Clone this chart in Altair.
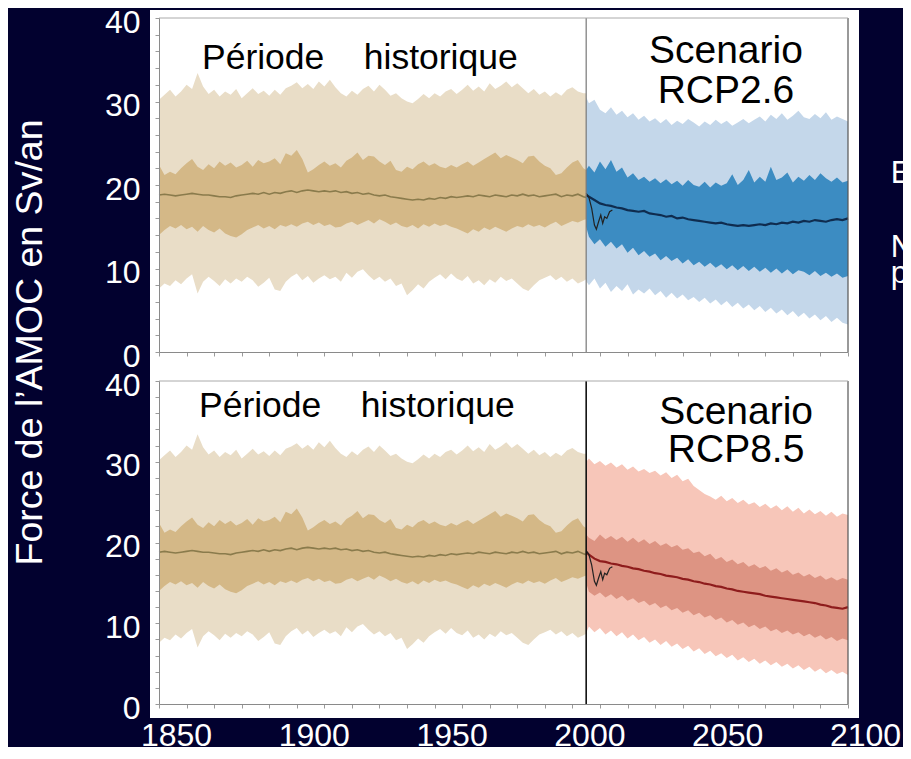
import altair as alt
import pandas as pd

BG = "#02012f"
FONT = "Liberation Sans"

# ---------------- data ----------------
hist_years = list(range(1850, 2005, 2)) + [2005]
hist_outer_hi = [
    30.2, 30.8, 31.4, 30.6, 31.2,
    32.0, 31.5, 33.4, 31.8, 30.9,
    31.4, 30.6, 31.2, 30.8, 31.5,
    30.4, 31.0, 31.6, 30.9, 31.3,
    30.7, 31.4, 30.8, 31.6, 31.9,
    32.3, 31.6, 32.1, 31.5, 32.4,
    31.8, 32.6, 31.7, 31.0, 30.6,
    31.3, 30.8, 31.5, 31.9, 31.2,
    32.0, 31.4, 30.7, 31.0, 30.4,
    30.0, 29.8, 30.3, 30.9, 30.4,
    31.0, 30.6, 31.2, 31.5, 30.9,
    31.4, 32.0, 31.3, 31.8, 31.2,
    32.2, 31.5, 31.9, 32.4, 31.7,
    32.2, 31.6, 31.0, 31.5, 30.8,
    31.2, 30.6, 31.1, 30.7, 31.4,
    31.7, 31.2, 31.0, 31.0]
hist_outer_lo = [
    7.6, 8.2, 7.9, 8.6, 8.1,
    8.8, 9.3, 7.0, 8.4, 9.0,
    8.5, 7.9, 8.7, 8.2, 8.8,
    8.4, 9.0, 8.6, 7.8, 8.3,
    8.9, 7.5, 7.3, 8.4, 9.0,
    9.4, 8.6, 9.1, 8.3, 8.8,
    9.2, 8.7, 9.0, 8.4, 9.5,
    8.9, 9.6, 9.9, 9.2, 8.6,
    9.0, 8.4, 8.8, 7.9, 8.2,
    6.8, 7.4, 8.1, 7.6, 8.4,
    8.9, 9.3, 8.7, 9.4, 8.8,
    8.5, 9.1, 8.2, 8.6, 8.0,
    8.7, 8.3, 9.0, 8.5, 8.8,
    8.2, 7.6, 7.3, 8.0, 8.6,
    8.9, 9.2, 8.6, 9.0, 8.4,
    8.8, 8.2, 8.5, 8.7]
hist_inner_hi = [
    22.4, 21.2, 21.6, 21.3, 22.0,
    22.6, 23.1, 22.2, 21.8, 22.5,
    22.0, 22.8, 22.3, 22.7, 22.1,
    22.4, 22.9, 22.2, 23.0, 22.6,
    22.8, 23.2, 22.5, 23.8, 23.5,
    24.2, 23.1, 21.5, 21.9, 22.4,
    22.8, 22.3, 22.6, 22.1, 22.9,
    23.3, 23.9, 23.0, 23.5, 23.4,
    22.8, 22.4, 22.9, 21.8, 21.6,
    22.2, 21.9, 22.5, 22.8, 22.3,
    22.6, 22.2, 22.0, 22.4, 22.1,
    22.5, 22.8, 22.3, 22.7, 23.1,
    23.5, 23.9, 23.2, 23.6, 23.3,
    23.0, 22.6, 23.4, 23.5, 22.8,
    22.3, 22.0, 21.2, 21.4, 22.1,
    22.7, 23.0, 22.0, 21.8]
hist_inner_lo = [
    14.0, 14.6, 15.1, 14.8, 15.2,
    14.7, 15.0, 14.4, 15.1, 14.6,
    14.3, 14.8, 14.2, 13.9, 13.7,
    14.1, 14.6, 14.9, 15.2, 14.8,
    15.1, 14.7, 15.2, 15.0, 15.3,
    15.0, 15.4, 15.6, 15.2, 15.5,
    15.1, 15.3, 14.9, 15.0, 15.4,
    15.6, 15.2, 15.5, 15.8, 15.4,
    15.9, 15.6, 15.2, 15.5, 15.1,
    14.9, 15.2, 14.8, 15.3, 15.0,
    15.4, 15.1, 15.3, 15.0, 14.8,
    14.5, 14.2, 14.7, 14.4, 14.9,
    14.6, 15.0, 14.7, 14.4, 14.8,
    15.1, 14.9, 15.3, 15.0, 15.2,
    14.9, 15.3, 15.6, 15.1, 15.4,
    15.7, 15.5, 15.8, 15.9]
hist_mean = [
    18.8, 18.9, 18.8, 18.7, 18.8,
    18.9, 19.0, 18.9, 18.8, 18.8,
    18.7, 18.6, 18.6, 18.5, 18.7,
    18.8, 18.9, 19.0, 18.9, 19.1,
    18.9, 19.1, 19.0, 19.2, 19.3,
    19.1, 19.3, 19.4, 19.3, 19.2,
    19.3, 19.2, 19.3, 19.1, 19.2,
    19.0, 19.1, 18.9, 19.0, 18.8,
    18.7, 18.8, 18.6, 18.5, 18.4,
    18.3, 18.2, 18.3, 18.2, 18.4,
    18.3, 18.5, 18.4, 18.6, 18.5,
    18.6, 18.7, 18.6, 18.8, 18.7,
    18.6, 18.8, 18.7, 18.6, 18.8,
    18.7, 18.9, 18.7, 18.8, 18.6,
    18.7, 18.8, 18.9, 18.6, 18.8,
    18.7, 18.9, 18.6, 18.5]

scen_years = [2005] + list(range(2006, 2101, 2))
rcp26_outer_hi = [30.5,
    29.8, 30.2, 29.0, 28.6, 29.3,
    28.4, 28.9, 28.1, 28.6, 27.8,
    28.3, 27.6, 28.0, 27.4, 27.9,
    27.2, 27.7, 27.3, 27.9, 27.5,
    27.0, 27.6, 27.2, 27.8, 27.3,
    27.7, 27.1, 27.5, 27.9, 27.4,
    27.8, 28.2, 27.6, 28.4, 27.9,
    28.6, 27.8, 28.3, 28.9, 28.1,
    27.9, 28.5, 28.0, 28.7, 27.8,
    28.2, 27.9, 27.6]
rcp26_outer_lo = [8.5,
    8.0, 8.8, 7.6, 8.3, 7.2,
    7.9, 7.3, 8.1, 6.9, 7.5,
    7.0, 7.6, 6.8, 7.3, 6.5,
    7.1, 6.4, 6.9, 6.2, 6.6,
    6.0, 6.5, 5.8, 6.3, 5.6,
    6.1, 5.4, 5.9, 5.2, 5.7,
    5.0, 5.5, 4.8, 5.3, 4.6,
    5.1, 4.4, 4.9, 4.2, 4.7,
    4.0, 4.5, 3.8, 4.3, 3.6,
    4.1, 3.5, 3.3]
rcp26_inner_hi = [21.8,
    22.3, 21.5, 22.8, 21.9, 23.0,
    21.6, 22.1, 20.9, 21.4, 20.6,
    21.0, 20.4, 20.8, 20.2, 20.7,
    20.1, 20.5, 19.9, 20.6, 20.0,
    19.8, 20.4, 19.7, 20.3, 19.9,
    20.2, 21.3, 20.0, 20.6, 21.8,
    20.3, 21.0, 20.4, 22.2, 20.6,
    20.9, 21.5, 20.3, 21.0, 20.5,
    21.2, 20.6, 21.4, 20.8, 20.4,
    20.9, 20.3, 20.5]
rcp26_inner_lo = [15.0,
    13.8, 12.9, 13.5, 12.6, 13.2,
    12.4, 12.9, 11.9, 12.5, 11.6,
    12.1, 11.4, 11.8, 11.0, 11.5,
    10.9, 11.3, 10.6, 11.1, 10.4,
    10.8, 10.2, 10.7, 10.1, 10.5,
    9.9, 10.4, 9.8, 10.3, 9.7,
    10.2, 9.6, 10.1, 9.5, 10.0,
    9.4, 9.9, 9.3, 9.8, 9.6,
    9.2, 9.7, 9.1, 9.5, 9.0,
    9.4, 8.9, 9.1]
rcp26_mean = [18.8,
    18.6, 18.2, 17.8, 17.6, 17.5,
    17.3, 17.2, 17.0, 16.9, 16.8,
    16.9, 16.6, 16.5, 16.4, 16.2,
    16.3, 16.0, 16.1, 15.9, 15.8,
    15.7, 15.6, 15.5, 15.4, 15.5,
    15.3, 15.2, 15.1, 15.2, 15.1,
    15.2, 15.3, 15.2, 15.4, 15.3,
    15.5, 15.4, 15.6, 15.5, 15.7,
    15.6, 15.8, 15.7, 15.6, 15.8,
    15.9, 15.8, 16.0]

rcp85_outer_hi = [30.0,
    30.4, 29.7, 30.1, 29.5, 29.9,
    29.3, 29.7, 29.0, 29.4, 28.8,
    29.1, 28.6, 28.9, 28.3, 28.7,
    28.0, 28.4, 27.6, 27.9, 27.0,
    26.5, 26.0, 25.7, 25.3, 25.8,
    25.1, 25.5, 24.9, 25.3, 24.7,
    25.0, 24.4, 24.8, 24.2, 24.6,
    24.0, 24.5, 23.8, 24.3, 23.6,
    24.1, 23.5, 23.9, 23.3, 23.8,
    23.2, 23.6, 23.4]
rcp85_outer_lo = [8.8,
    9.6, 8.9, 9.4, 8.6, 9.1,
    8.4, 8.9, 8.1, 8.6, 7.9,
    8.3, 7.6, 8.0, 7.3, 7.8,
    7.1, 7.5, 6.8, 7.2, 6.5,
    6.9, 6.2, 6.6, 5.9, 6.3,
    5.7, 6.1, 5.4, 5.8, 5.2,
    5.6, 5.0, 5.4, 4.8, 5.2,
    4.6, 5.0, 4.4, 4.8, 4.2,
    4.6, 4.0, 4.4, 3.8, 4.2,
    3.7, 4.0, 3.6]
rcp85_inner_hi = [21.0,
    20.6, 20.2, 21.0, 20.4, 20.8,
    20.3, 20.7, 20.1, 20.6, 20.0,
    20.4, 19.8, 20.2, 19.6, 19.9,
    19.4, 19.7, 19.1, 19.3, 18.7,
    18.9, 18.3, 18.6, 17.9, 18.2,
    17.6, 17.9, 17.3, 17.6, 17.0,
    17.3, 16.8, 17.1, 16.5, 16.8,
    16.3, 16.6, 16.0, 16.3, 15.8,
    16.1, 15.6, 15.9, 15.4, 15.7,
    15.3, 15.6, 15.4]
rcp85_inner_lo = [15.0,
    13.9, 13.4, 13.8, 13.2, 13.6,
    13.0, 13.4, 12.8, 13.1, 12.5,
    12.8, 12.2, 12.5, 11.9, 12.2,
    11.6, 11.9, 11.3, 11.6, 11.0,
    11.3, 10.7, 11.0, 10.4, 10.7,
    10.1, 10.4, 9.8, 10.1, 9.5,
    9.8, 9.3, 9.6, 9.0, 9.3,
    8.8, 9.1, 8.6, 8.9, 8.4,
    8.7, 8.2, 8.5, 8.0, 8.3,
    7.8, 8.1, 7.9]
rcp85_mean = [18.8,
    18.5, 18.0, 17.7, 17.6, 17.4,
    17.3, 17.1, 17.0, 16.8, 16.7,
    16.5, 16.4, 16.2, 16.1, 15.9,
    15.8, 15.7, 15.5, 15.4, 15.2,
    15.1, 14.9, 14.8, 14.6, 14.5,
    14.3, 14.2, 14.0, 13.9, 13.8,
    13.7, 13.6, 13.4, 13.3, 13.2,
    13.1, 13.0, 12.9, 12.8, 12.7,
    12.6, 12.5, 12.3, 12.2, 12.0,
    11.9, 11.8, 12.0]

obs_years = [2005.0, 2006.0, 2007.0, 2008.0, 2008.7, 2009.5, 2010.3, 2011.0, 2011.7, 2012.5, 2013.5, 2014.5]
obs_vals = [19.0, 18.5, 17.2, 15.2, 14.7, 15.6, 16.4, 15.4, 16.2, 16.0, 16.8, 17.0]

y_title = "Force de l’AMOC en Sv/an"
hist_label = "Période\u00a0\u00a0\u00a0 historique"
panels_info = [
    {"scen": ("Scenario", "RCP2.6"),
     "data": (rcp26_outer_lo, rcp26_outer_hi, rcp26_inner_lo, rcp26_inner_hi, rcp26_mean),
     "colors": ("#c4d7ea", "#3c8cc2", "#0f2c4f"),
     "vline": ("#777777", 1.2),
     "H": 334, "pad_top": 8,
     "hist_xy": (1865.6, 33.9), "scen_xy": (2055.7, 34.6, 29.8)},
    {"scen": ("Scenario", "RCP8.5"),
     "data": (rcp85_outer_lo, rcp85_outer_hi, rcp85_inner_lo, rcp85_inner_hi, rcp85_mean),
     "colors": ("#f7c6b9", "#dd9483", "#8e1c1c"),
     "vline": ("#111111", 1.6),
     "H": 323, "pad_top": 16,
     "hist_xy": (1864.5, 35.6), "scen_xy": (2059.4, 34.7, 30.0)},
]
side_letters = ["E", "N", "p"]
side_y = [20.2, 11.4, 8.3]

W = 689
hist_df = pd.DataFrame({"year": hist_years, "olo": hist_outer_lo, "ohi": hist_outer_hi,
                        "ilo": hist_inner_lo, "ihi": hist_inner_hi, "mean": hist_mean})
obs_df = pd.DataFrame({"year": obs_years, "v": obs_vals})

XS = alt.Scale(domain=[1850, 2100], nice=False, zero=False)
YS = alt.Scale(domain=[0, 40], nice=False, zero=False)


def axes(show_x):
    xa = alt.Axis(title=None, values=list(range(1850, 2101, 10)),
                  labelExpr="datum.value % 50 === 0 ? '' + datum.value : ''",
                  labels=show_x, labelFlush=False, labelOverlap=False,
                  labelColor="white", labelFont=FONT, labelFontSize=32,
                  labelPadding=12, labelOffset=17,
                  domainColor="#8a8a8a", tickColor="#9a9a9a", tickSize=4,
                  grid=False, zindex=1)
    ya = alt.Axis(title=None, values=list(range(0, 41, 2)),
                  labelExpr="datum.value % 10 === 0 ? '' + datum.value : ''",
                  labelFlush=False, labelOverlap=False,
                  labelColor="white", labelFont=FONT, labelFontSize=32,
                  labelPadding=15, labelOffset=4,
                  domainColor="#8a8a8a", tickColor="#9a9a9a", tickSize=4,
                  grid=False, zindex=1)
    return xa, ya


def panel(info, show_x, top):
    H = info["H"]
    xa, ya = axes(show_x)
    olo, ohi, ilo, ihi, mn = info["data"]
    c_out, c_in, c_mean = info["colors"]
    sdf = pd.DataFrame({"year": scen_years, "olo": olo, "ohi": ohi, "ilo": ilo, "ihi": ihi, "mean": mn})

    def X():
        return alt.X("year:Q", scale=XS, axis=xa)

    def Y(f):
        return alt.Y(f + ":Q", scale=YS, axis=ya)

    one = pd.DataFrame({"k": [0]})
    bg = alt.Chart(one).mark_rect(color="white").encode(
        x=alt.value(-9), x2=alt.value(W + 11),
        y=alt.value(-info["pad_top"]), y2=alt.value(H + 14))

    h_out = alt.Chart(hist_df).mark_area(color="#e9ddc7").encode(X(), Y("olo"), y2="ohi")
    h_in = alt.Chart(hist_df).mark_area(color="#d4b887").encode(X(), Y("ilo"), y2="ihi")
    s_out = alt.Chart(sdf).mark_area(color=c_out).encode(X(), Y("olo"), y2="ohi")
    s_in = alt.Chart(sdf).mark_area(color=c_in).encode(X(), Y("ilo"), y2="ihi")
    h_mean = alt.Chart(hist_df).mark_line(color="#8a7b4c", strokeWidth=1.6).encode(X(), Y("mean"))
    s_mean = alt.Chart(sdf).mark_line(color=c_mean, strokeWidth=2.2).encode(X(), Y("mean"))
    obs = alt.Chart(obs_df).mark_line(color="#222222", strokeWidth=1.2).encode(X(), Y("v"))

    vdf = pd.DataFrame({"year": [2005], "lo": [0], "hi": [40]})
    vline = alt.Chart(vdf).mark_rule(color=info["vline"][0], strokeWidth=info["vline"][1]).encode(
        X(), Y("lo"), y2="hi")
    fdf = pd.DataFrame({"year": [2100, 1850], "lo": [0, 40], "hi": [40, 40], "x2": [2100, 2100]})
    frame_r = alt.Chart(fdf.iloc[[0]]).mark_rule(color="#555555", strokeWidth=1.2).encode(X(), Y("lo"), y2="hi")
    frame_t = alt.Chart(fdf.iloc[[1]]).mark_rule(color="#aaaaaa", strokeWidth=1).encode(X(), Y("lo"), x2="x2")

    hx, hy = info["hist_xy"]
    sx, sy1, sy2 = info["scen_xy"]
    tdf = pd.DataFrame({"year": [hx], "v": [hy], "t": [hist_label]})
    t_hist = alt.Chart(tdf).mark_text(align="left", baseline="alphabetic", font=FONT,
                                      fontSize=35.5, color="black").encode(X(), Y("v"), text="t:N")
    sdf_t = pd.DataFrame({"year": [sx, sx], "v": [sy1, sy2], "t": list(info["scen"])})
    t_scen = alt.Chart(sdf_t).mark_text(align="center", baseline="alphabetic", font=FONT,
                                        fontSize=39, color="black").encode(X(), Y("v"), text="t:N")

    layers = [bg, h_out, h_in, s_out, s_in, h_mean, s_mean, obs, vline, frame_r, frame_t, t_hist, t_scen]
    if top:
        ldf = pd.DataFrame({"year": [2115.5] * 3, "v": side_y, "t": side_letters})
        t_side = alt.Chart(ldf).mark_text(align="left", baseline="alphabetic", font=FONT,
                                          fontSize=31, color="white").encode(X(), Y("v"), text="t:N")
        layers.append(t_side)
    return alt.layer(*layers).properties(width=W, height=H)


top = panel(panels_info[0], False, True)
bottom = panel(panels_info[1], True, False)

chart = alt.vconcat(top, bottom, spacing=-7).properties(
    title=alt.TitleParams(text=y_title, orient="left", anchor="middle", color="white",
                          font=FONT, fontSize=37.5, fontWeight="normal", offset=55, dx=36),
    background=BG,
    padding={"left": 3, "top": -2, "right": -11, "bottom": -4},
).configure_view(stroke=None)

chart.save("out.html", embed_options={"renderer": "svg", "actions": False})
